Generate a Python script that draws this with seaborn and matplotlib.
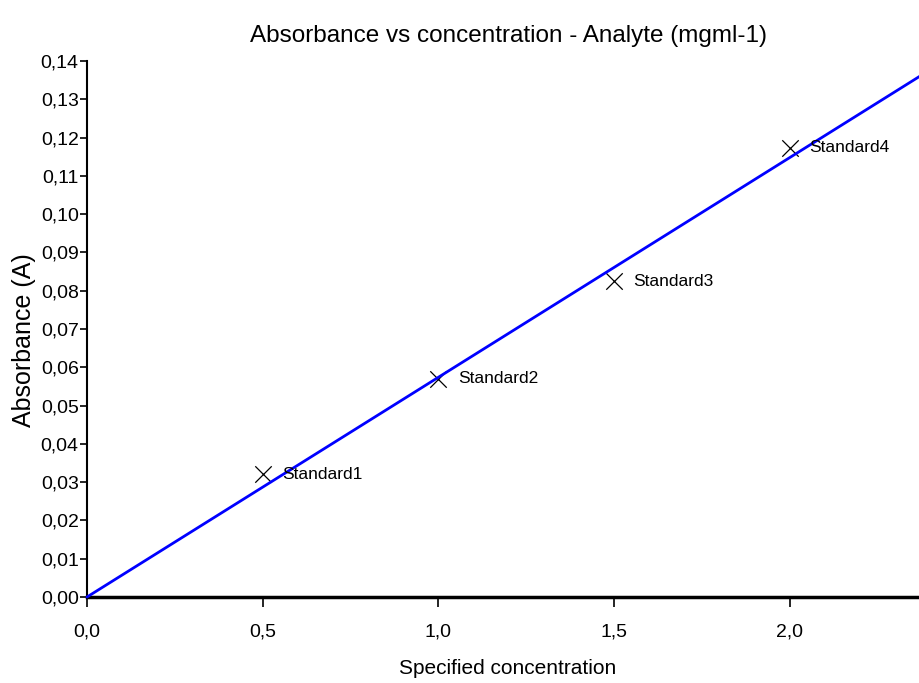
import matplotlib
matplotlib.use("Agg")
import matplotlib.pyplot as plt
import seaborn as sns
import pandas as pd
from matplotlib.ticker import FixedLocator, FixedFormatter

# ---- data ----
std_names = ["Standard1", "Standard2", "Standard3", "Standard4"]
std_conc = [0.5, 1.0, 1.5, 2.0]
std_abs = [0.032, 0.057, 0.0825, 0.1173]

fit_conc = [0.0, 2.37]
fit_abs = [0.0, 0.136]

x_ticks = [0.0, 0.5, 1.0, 1.5, 2.0]
x_tick_labels = ["0,0", "0,5", "1,0", "1,5", "2,0"]
y_ticks = [0.00, 0.01, 0.02, 0.03, 0.04, 0.05, 0.06, 0.07, 0.08, 0.09, 0.10, 0.11, 0.12, 0.13, 0.14]
y_tick_labels = ["0,00", "0,01", "0,02", "0,03", "0,04", "0,05", "0,06", "0,07",
                 "0,08", "0,09", "0,10", "0,11", "0,12", "0,13", "0,14"]

title = "Absorbance vs concentration - Analyte (mgml-1)"
x_label = "Specified concentration"
y_label = "Absorbance (A)"

# ---- style ----
sns.set_theme(style="white")
FONT = ["Liberation Sans", "DejaVu Sans"]
plt.rcParams["font.family"] = FONT

W, H = 919, 683
fig = plt.figure(figsize=(W / 100, H / 100), dpi=100)
fig.patch.set_facecolor("white")

left_px, right_px, top_px, bottom_px = 87, 919, 61, 597
ax = fig.add_axes([left_px / W, 1 - bottom_px / H, (right_px - left_px) / W, (bottom_px - top_px) / H])
ax.set_facecolor("white")

fit_df = pd.DataFrame({"conc": fit_conc, "abs": fit_abs})
std_df = pd.DataFrame({"name": std_names, "conc": std_conc, "abs": std_abs})

sns.scatterplot(data=std_df, x="conc", y="abs", marker="x", s=140, color="black",
                linewidth=0.9, ax=ax, zorder=2, clip_on=False)
sns.lineplot(data=fit_df, x="conc", y="abs", color="#0000ff", linewidth=2.0, ax=ax,
             zorder=3, clip_on=False)

for _, r in std_df.iterrows():
    ax.annotate(r["name"], (r["conc"], r["abs"]), xytext=(14, 0), textcoords="offset points",
                ha="left", va="center", fontsize=12.5, color="black")

ax.set_xlim(0, 2.368)
ax.set_ylim(0, 0.14)

ax.xaxis.set_major_locator(FixedLocator(x_ticks))
ax.xaxis.set_major_formatter(FixedFormatter(x_tick_labels))
ax.yaxis.set_major_locator(FixedLocator(y_ticks))
ax.yaxis.set_major_formatter(FixedFormatter(y_tick_labels))

for s in ["top", "right"]:
    ax.spines[s].set_visible(False)
ax.spines["left"].set_color("black")
ax.spines["left"].set_linewidth(1.5)
ax.spines["bottom"].set_color("black")
ax.spines["bottom"].set_linewidth(2.5)

ax.tick_params(axis="y", direction="out", length=5, width=1.2, color="black", pad=1,
               labelsize=14, labelcolor="black", left=True)
ax.tick_params(axis="x", direction="out", length=7, width=1.2, color="black", pad=12,
               labelsize=14, labelcolor="black", bottom=True)

ax.set_xlabel("")
ax.set_ylabel("")
ax.grid(False)

fig.text(508 / W, 1 - 36 / H, title, ha="center", va="center", fontsize=17.5,
         color="black")
fig.text(508 / W, 1 - 669 / H, x_label, ha="center", va="center", fontsize=15,
         color="black")
fig.text(24 / W, 1 - 340 / H, y_label, ha="center", va="center", rotation=90,
         fontsize=18, color="black")

fig.savefig("out.png", dpi=100, facecolor="white")
